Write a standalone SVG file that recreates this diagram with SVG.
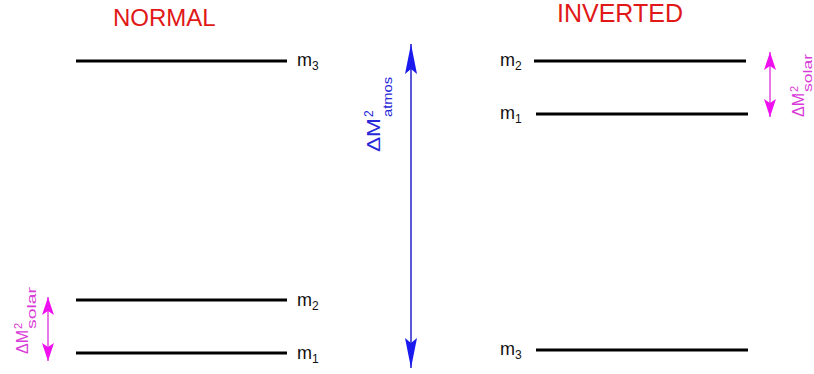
<svg xmlns="http://www.w3.org/2000/svg" width="814" height="374" viewBox="0 0 814 374">
<style>
text{font-family:"Liberation Sans",Arial,sans-serif}
.title{fill:#e01818;font-size:24px}
.lvl{stroke:#000;stroke-width:3}
.m{font-size:18px;fill:#111}
.sub{font-size:12px}
.blue{fill:#2828d8}
.mag{fill:#d83ad8}
.barrow{stroke:#5a5ad8;stroke-width:2;fill:none}
.marrow{stroke:#e878e8;stroke-width:2;fill:none}
</style>
<defs>
<marker id="bh" markerUnits="userSpaceOnUse" viewBox="0 -6 30 12" refX="30" refY="0" markerWidth="30" markerHeight="12" orient="auto-start-reverse">
<path d="M30,0 L0,-6 L5,0 L0,6 Z" fill="#1a1aee"/>
</marker>
<marker id="mh" markerUnits="userSpaceOnUse" viewBox="0 -6 18 12" refX="18" refY="0" markerWidth="18" markerHeight="12" orient="auto-start-reverse">
<path d="M18,0 L0,-6 L4,0 L0,6 Z" fill="#ee10ee"/>
</marker>
</defs>
<g id="titles">
<text class="title" x="113" y="26">NORMAL</text>
<text class="title" x="557" y="22" style="font-size:25px">INVERTED</text>
</g>
<g id="normal-m3">
<line class="lvl" x1="76" y1="61" x2="287" y2="61"/>
<text class="m" x="297" y="66">m<tspan class="sub" dy="4">3</tspan></text>
</g>
<g id="normal-m2">
<line class="lvl" x1="76" y1="300" x2="287" y2="300"/>
<text class="m" x="297" y="306">m<tspan class="sub" dy="4">2</tspan></text>
</g>
<g id="normal-m1">
<line class="lvl" x1="76" y1="353" x2="287" y2="353"/>
<text class="m" x="297" y="359">m<tspan class="sub" dy="4">1</tspan></text>
</g>
<g id="inverted-m2">
<line class="lvl" x1="534" y1="61" x2="746" y2="61"/>
<text class="m" x="500" y="66">m<tspan class="sub" dy="4">2</tspan></text>
</g>
<g id="inverted-m1">
<line class="lvl" x1="536" y1="114" x2="748" y2="114"/>
<text class="m" x="500" y="119">m<tspan class="sub" dy="4">1</tspan></text>
</g>
<g id="inverted-m3">
<line class="lvl" x1="536" y1="350" x2="748" y2="350"/>
<text class="m" x="500" y="355">m<tspan class="sub" dy="4">3</tspan></text>
</g>
<g id="connectors">
<line class="barrow" x1="411" y1="44" x2="411" y2="368" marker-start="url(#bh)" marker-end="url(#bh)"/>
<line class="marrow" x1="48" y1="297" x2="48" y2="361" marker-start="url(#mh)" marker-end="url(#mh)"/>
<line class="marrow" x1="770" y1="52" x2="770" y2="117" marker-start="url(#mh)" marker-end="url(#mh)"/>
</g>
<g id="label-atmos" class="blue" transform="translate(380,152) rotate(-90)">
<text x="0" y="0" style="font-size:19px" textLength="34" lengthAdjust="spacingAndGlyphs">ΔM</text>
<text x="35" y="-7" style="font-size:12px">2</text>
<text x="35" y="12" style="font-size:13px" textLength="40" lengthAdjust="spacingAndGlyphs">atmos</text>
</g>
<g id="label-solar-left" class="mag" transform="translate(28,354) rotate(-90)">
<text x="0" y="0" style="font-size:16px">ΔM</text>
<text x="25" y="-6" style="font-size:11px">2</text>
<text x="25" y="8" style="font-size:12px" textLength="42" lengthAdjust="spacingAndGlyphs">solar</text>
</g>
<g id="label-solar-right" class="mag" transform="translate(804,117) rotate(-90)">
<text x="0" y="0" style="font-size:16px">ΔM</text>
<text x="25" y="-6" style="font-size:11px">2</text>
<text x="25" y="8" style="font-size:12px" textLength="38" lengthAdjust="spacingAndGlyphs">solar</text>
</g>
</svg>
